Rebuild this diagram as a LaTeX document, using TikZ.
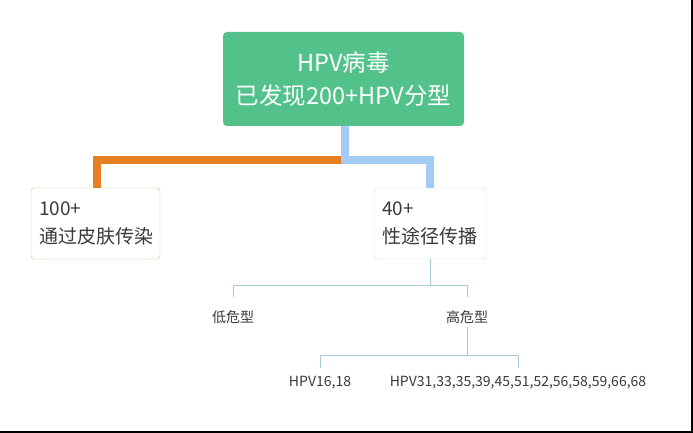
\documentclass[tikz,border=0pt]{standalone}
\usepackage{fontspec}
\newfontfamily\cjk{Noto Sans CJK SC}
\definecolor{rootgreen}{HTML}{52C18A}
\definecolor{skinorange}{HTML}{E67E22}
\definecolor{sexblue}{HTML}{A3CBF5}
\definecolor{skinframe}{HTML}{D3B98F}
\definecolor{sexframe}{HTML}{BFDCEE}
\definecolor{twig}{HTML}{A9CADB}
\definecolor{txt}{HTML}{3A3A3A}
\begin{document}
\begin{tikzpicture}[x=1pt,y=-1pt,font=\cjk,text=txt]
        \tikzstyle{root}=[rectangle,rounded corners=4pt,fill=rootgreen,text=white,align=center,minimum width=241pt,minimum height=94pt,font=\cjk\fontsize{23.5}{33}\selectfont]
        \tikzstyle{branch}=[rectangle,rounded corners=3pt,fill=white,align=left,inner xsep=8pt,minimum height=71pt,font=\cjk\fontsize{19}{28}\selectfont]
        \tikzstyle{leaf}=[inner sep=3pt,font=\cjk\fontsize{14}{16}\selectfont]
        \tikzstyle{thick edge}=[line width=8pt]
        \tikzstyle{edge}=[draw=twig,line width=0.8pt]
       \useasboundingbox (0,0) rectangle (693,433);
       \draw[line width=2pt] (0,432) -- (692,432) -- (692,0);
       \begin{scope}
         \node [root] (root) at (343.5,79) {HPV病毒\\已发现200+HPV分型};
         \node [branch,draw=skinframe,text width=113pt] (skin) at (95.5,223.5) {100+\\通过皮肤传染};
         \node [branch,draw=sexframe,text width=96pt] (sex) at (430,223.5) {40+\\性途径传播};
         \node [leaf] (low) at (233,317) {低危型};
         \node [leaf] (high) at (467,317) {高危型};
         \node [leaf] (hpvA) at (320,383) {HPV16,18};
         \node [leaf] (hpvB) at (518,383) {HPV31,33,35,39,45,51,52,56,58,59,66,68};
         \coordinate (j1) at (345,160);
         \coordinate (j2) at (430,285);
         \coordinate (j3) at (467,355);
         \draw[thick edge,draw=skinorange] (j1) -- (97,160) -- (skin.north -| 97,0);
         \draw[thick edge,draw=sexblue] (root.south -| j1) -- (j1) -| (sex.north);
         \path[edge] (sex.south) -- (j2);
         \path[edge,shorten >=10pt] (j2) -| (low);
         \path[edge,shorten >=10pt] (j2) -| (high);
         \path[edge] (high.south) -- (j3);
         \path[edge,shorten >=5pt] (j3) -| (hpvA);
         \path[edge,shorten >=5pt] (j3) -| (hpvB);
        \end{scope}
      \end{tikzpicture}
\end{document}
